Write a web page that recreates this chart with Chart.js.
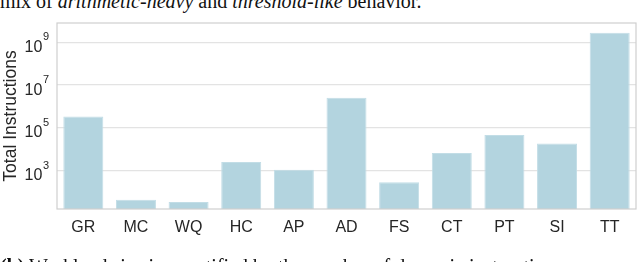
<!DOCTYPE html>
<html>
<head>
<meta charset="utf-8">
<script src="https://cdn.jsdelivr.net/npm/chart.js@4"></script>
<style>
  html, body { margin: 0; padding: 0; background: #fff; }
  #wrap { position: relative; width: 640px; height: 262px; overflow: hidden; }
  #chart { position: absolute; left: 0; top: 0; }
  .cap { position: absolute; left: 0; white-space: nowrap; font-family: 'Liberation Serif', 'Times New Roman', serif; font-size: 20px; line-height: 20px; color: #111; }
</style>
</head>
<body>
<div id="wrap">
  <div class="cap" style="top:-9.5px">mix of <i>arithmetic-heavy</i> and <i>threshold-like</i> behavior.</div>
  <canvas id="chart" width="640" height="262"></canvas>
  <div class="cap" style="top:256px"><b>(b)</b> Workload size is quantified by the number of dynamic instructions.</div>
</div>
<script>
const categories = ['GR', 'MC', 'WQ', 'HC', 'AP', 'AD', 'FS', 'CT', 'PT', 'SI', 'TT'];
const totalInstructions = [330000, 42, 33, 2450, 1070, 2500000, 280, 6500, 45000, 18000, 2800000000];
const yTicks = [1e3, 1e5, 1e7, 1e9];

const font = "'Liberation Sans', Arial, sans-serif";

// draws the 10^n labels with a raised exponent, plus the box round the plot
const axisExtras = {
  id: 'axisExtras',
  afterDraw(c) {
    const ctx = c.ctx;
    const a = c.chartArea;
    const y = c.scales.y;
    ctx.save();
    ctx.strokeStyle = '#cfcfcf';
    ctx.lineWidth = 1.2;
    ctx.strokeRect(a.left, a.top, a.right - a.left, a.bottom - a.top);
    ctx.fillStyle = '#262626';
    ctx.textBaseline = 'alphabetic';
    ctx.textAlign = 'left';
    yTicks.forEach(v => {
      const py = y.getPixelForValue(v);
      const exp = String(Math.round(Math.log10(v)));
      ctx.font = '11px ' + font;
      const ew = ctx.measureText(exp).width;
      const ex = 49 - ew;
      ctx.fillText(exp, ex, py - 1.8);
      ctx.font = '16px ' + font;
      const bw = ctx.measureText('10').width;
      ctx.fillText('10', ex - 0.5 - bw, py + 9.8);
    });
    ctx.restore();
  }
};

new Chart(document.getElementById('chart'), {
  type: 'bar',
  data: {
    labels: categories,
    datasets: [{
      data: totalInstructions,
      backgroundColor: '#b3d4df',
      borderColor: '#c2dde6',
      borderWidth: 1,
      barPercentage: 0.76,
      categoryPercentage: 1
    }]
  },
  options: {
    responsive: false,
    animation: false,
    layout: { padding: { top: 23, right: 4, left: 0, bottom: 0 } },
    plugins: { legend: { display: false }, tooltip: { enabled: false } },
    scales: {
      x: {
        grid: { display: false, drawTicks: false },
        border: { display: false },
        ticks: { color: '#262626', font: { family: font, size: 16 }, padding: 9 },
        afterFit(s) { s.height = 53; }
      },
      y: {
        type: 'logarithmic',
        min: 15.5,
        max: 8.0e9,
        border: { display: false },
        grid: { color: '#e3e3e3', lineWidth: 1.2, drawTicks: false },
        ticks: { display: false },
        afterBuildTicks(s) { s.ticks = yTicks.map(v => ({ value: v })); },
        title: {
          display: true,
          text: 'Total Instructions',
          color: '#262626',
          font: { family: font, size: 17.5 },
          padding: { top: 1, bottom: 0 }
        },
        afterFit(s) { s.width = 57; }
      }
    }
  },
  plugins: [axisExtras]
});
</script>
</body>
</html>
